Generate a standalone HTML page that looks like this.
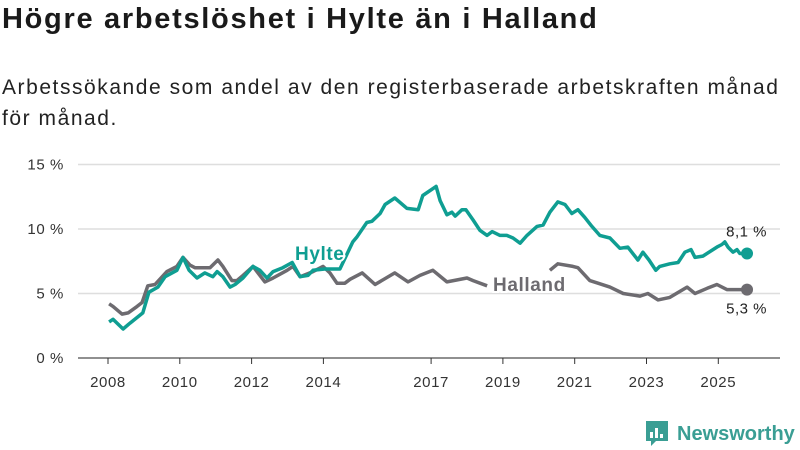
<!DOCTYPE html>
<html><head><meta charset="utf-8">
<style>
body{margin:0;width:800px;height:450px;background:#fff;font-family:"Liberation Sans","DejaVu Sans",sans-serif;overflow:hidden;position:relative;color:#1a1a1a}
#title{position:absolute;left:2px;top:3px;font-size:29px;letter-spacing:1.7px;font-weight:bold;margin:0;white-space:nowrap}
#subtitle{position:absolute;left:2px;top:72px;font-size:21px;letter-spacing:1.55px;line-height:31px;width:798px;color:#222}
svg{position:absolute;left:0;top:0}
</style></head><body>
<h1 id="title">Högre arbetslöshet i Hylte än i Halland</h1>
<div id="subtitle">Arbetssökande som andel av den registerbaserade arbetskraften månad för månad.</div>
<svg id="chart" width="800" height="450"></svg>
<script>
const yTicks=[0,5,10,15];
const yTickLabels=["0 %","5 %","10 %","15 %"];
const xTicks=[2008,2010,2012,2014,2017,2019,2021,2023,2025];
const hylteYears=[2008.03,2008.14,2008.42,2008.61,2008.97,2009.14,2009.39,2009.59,2009.92,2010.09,2010.26,2010.48,2010.70,2010.92,2011.04,2011.20,2011.40,2011.54,2011.76,2012.04,2012.23,2012.43,2012.60,2012.87,2013.13,2013.35,2013.57,2013.71,2014.04,2014.46,2014.82,2014.94,2015.21,2015.35,2015.58,2015.72,2015.99,2016.33,2016.64,2016.77,2017.14,2017.25,2017.44,2017.58,2017.67,2017.86,2017.97,2018.17,2018.36,2018.56,2018.70,2018.92,2019.11,2019.28,2019.48,2019.67,2019.95,2020.12,2020.31,2020.53,2020.73,2020.92,2021.09,2021.28,2021.48,2021.70,2021.98,2022.26,2022.48,2022.76,2022.90,2023.07,2023.26,2023.37,2023.65,2023.88,2024.07,2024.24,2024.35,2024.57,2024.96,2025.10,2025.18,2025.27,2025.41,2025.52,2025.60,2025.80];
const hylteValues=[2.8,3.0,2.25,2.7,3.5,5.1,5.5,6.3,6.8,7.8,6.8,6.2,6.6,6.3,6.7,6.3,5.5,5.7,6.2,7.1,6.8,6.2,6.7,7.0,7.4,6.3,6.4,6.8,6.9,6.9,9.0,9.4,10.5,10.6,11.2,11.9,12.4,11.6,11.5,12.6,13.3,12.2,11.1,11.3,11.0,11.5,11.5,10.7,9.9,9.5,9.8,9.5,9.5,9.3,8.9,9.5,10.2,10.3,11.3,12.1,11.9,11.2,11.5,10.9,10.2,9.5,9.3,8.5,8.6,7.6,8.2,7.6,6.8,7.1,7.3,7.4,8.2,8.4,7.8,7.9,8.6,8.8,9.0,8.6,8.2,8.4,8.1,8.1];
const hallandYears=[2008.03,2008.14,2008.39,2008.56,2008.81,2008.95,2009.11,2009.31,2009.64,2009.92,2010.09,2010.28,2010.42,2010.84,2011.06,2011.20,2011.45,2011.59,2011.76,2012.04,2012.37,2012.60,2012.99,2013.15,2013.35,2013.71,2013.99,2014.18,2014.38,2014.60,2014.74,2015.08,2015.44,2015.99,2016.36,2016.69,2017.05,2017.44,2018.00,2018.17,2018.56,2019.4,2020.31,2020.53,2020.95,2021.09,2021.42,2021.65,2021.98,2022.35,2022.82,2023.04,2023.32,2023.65,2024.13,2024.35,2024.69,2024.96,2025.24,2025.41,2025.80];
const hallandValues=[4.2,4.0,3.4,3.5,4.0,4.3,5.6,5.7,6.7,7.1,7.8,7.2,7.0,7.0,7.6,7.1,6.0,6.0,6.4,7.1,5.9,6.2,6.8,7.1,6.3,6.7,7.1,6.6,5.8,5.8,6.1,6.6,5.7,6.6,5.9,6.4,6.8,5.9,6.2,6.0,5.6,null,6.8,7.3,7.1,7.0,6.0,5.8,5.5,5.0,4.8,5.0,4.5,4.7,5.5,5.0,5.4,5.7,5.3,5.3,5.3];
const hylteLast="8,1 %", hallandLast="5,3 %";

const NS="http://www.w3.org/2000/svg";
const svg=document.getElementById('chart');
const xS=y=>108+(y-2008)*35.9;
const yS=v=>358-v*12.9;
function mk(t,a){const e=document.createElementNS(NS,t);for(const k in a)e.setAttribute(k,a[k]);svg.appendChild(e);return e;}
yTicks.forEach((t,i)=>{
  const g=mk('line',{x1:78,x2:780,y1:yS(t),y2:yS(t),stroke:'#dedede','stroke-width':1.5});
  
  
  const l=mk('text',{x:64,y:yS(t)+5,'text-anchor':'end','font-size':15,'letter-spacing':0.6,fill:'#333'});
  l.textContent=yTickLabels[i];
  
  
});
const ax=mk('line',{x1:78,x2:780,y1:358,y2:358,stroke:'#333','stroke-width':1});


xTicks.forEach(t=>{
  const tk=mk('line',{x1:xS(t),x2:xS(t),y1:358,y2:364,stroke:'#333'});
  
  
  const l=mk('text',{x:xS(t),y:387,'text-anchor':'middle','font-size':15,'letter-spacing':0.6,fill:'#333'});
  l.textContent=t;
  
  
});
function path(xs,vs){let d='',pen=false;xs.forEach((x,i)=>{const v=vs[i];if(v==null){pen=false;return;}d+=(pen?'L':'M')+xS(x).toFixed(1)+' '+yS(v).toFixed(1)+' ';pen=true;});return d;}
const hal=mk('path',{d:path(hallandYears,hallandValues),fill:'none',stroke:'#6d6b70','stroke-width':3.5,'stroke-linejoin':'round'});


const hyl=mk('path',{d:path(hylteYears,hylteValues),fill:'none',stroke:'#0f9e92','stroke-width':3.5,'stroke-linejoin':'round'});


const hx=hylteYears[hylteYears.length-1], hv=hylteValues[hylteValues.length-1];
const gx=hallandYears[hallandYears.length-1], gv=hallandValues[hallandValues.length-1];
const d1=mk('circle',{cx:xS(hx),cy:yS(hv),r:6,fill:'#0f9e92'});


const d2=mk('circle',{cx:xS(gx),cy:yS(gv),r:6,fill:'#6d6b70'});


const t1=mk('text',{x:xS(hx)+20,y:yS(hv)-17,'text-anchor':'end','font-size':15,'letter-spacing':0.5,fill:'#222'});
t1.textContent=hylteLast;


const t2=mk('text',{x:xS(gx)+20,y:yS(gv)+24,'text-anchor':'end','font-size':15,'letter-spacing':0.5,fill:'#222'});
t2.textContent=hallandLast;


const l1=mk('text',{x:295,y:260,'font-size':19,'letter-spacing':0.6,'font-weight':'bold',fill:'#0f9e92',stroke:'#fff','stroke-width':4,'paint-order':'stroke'});
l1.textContent='Hylte';


const l2=mk('text',{x:493,y:291,'font-size':19,'letter-spacing':0.6,'font-weight':'bold',fill:'#6d6b70',stroke:'#fff','stroke-width':4,'paint-order':'stroke'});
l2.textContent='Halland';


const lg=mk('g',{});


const ic=document.createElementNS(NS,'path');
ic.setAttribute('d','M646 421h22v20h-12l-5 5v-5h-5z');
ic.setAttribute('fill','#3a9e94');
lg.appendChild(ic);
[[650,432,3,6],[655,428,3,10],[660,434,3,4]].forEach(b=>{const r=document.createElementNS(NS,'rect');r.setAttribute('x',b[0]);r.setAttribute('y',b[1]);r.setAttribute('width',b[2]);r.setAttribute('height',b[3]);r.setAttribute('fill','#fff');lg.appendChild(r);});
const lt=document.createElementNS(NS,'text');
lt.setAttribute('x',677);lt.setAttribute('y',440);lt.setAttribute('font-size',20);lt.setAttribute('font-weight','bold');lt.setAttribute('fill','#3a9e94');
lt.textContent='Newsworthy';
lg.appendChild(lt);
</script>
</body></html>
